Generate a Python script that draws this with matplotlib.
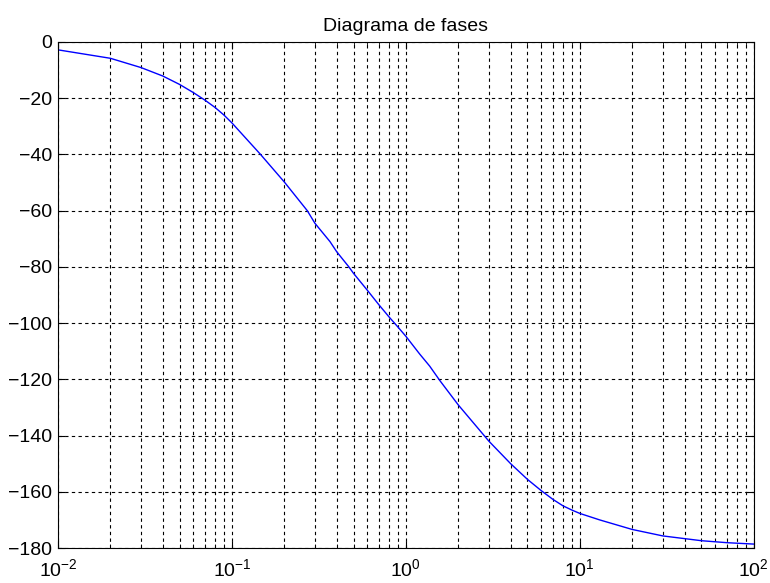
import matplotlib.pyplot as plt

freq = [0.01, 0.02, 0.03, 0.04, 0.05, 0.06, 0.07, 0.08, 0.09, 0.1,
        0.146, 0.2, 0.271, 0.3, 0.366, 0.4, 0.47, 0.5, 0.6, 0.7, 0.8, 0.9, 1.0,
        1.2, 1.37, 1.57, 2, 3, 4, 5, 6, 7, 8, 9, 10,
        13, 20, 30, 50, 70, 100]
phase = [-2.8, -5.8, -9.1, -12.1, -15.1, -18.0, -20.7, -23.3, -26.0, -28.8,
         -40.0, -49.8, -60.0, -64.5, -71.0, -74.6, -80.0, -82.3, -88.3, -93.5, -97.8, -101.4, -104.7,
         -111.0, -115.3, -120.5, -129.1, -142.0, -150.0, -155.6, -159.6, -162.7, -165.0, -166.5, -167.7,
         -170.0, -173.4, -175.7, -177.4, -178.1, -178.6]
yticks = list(range(-180, 1, 20))

plt.rcParams['font.family'] = ['Liberation Sans', 'DejaVu Sans']
plt.rcParams['mathtext.fontset'] = 'custom'
plt.rcParams['mathtext.rm'] = 'Liberation Sans'
plt.rcParams['mathtext.it'] = 'Liberation Sans'

fig = plt.figure(figsize=(7.7, 5.83), dpi=100)
ax = fig.add_axes([0.0753, 0.060, 0.9037, 0.868])
ax.semilogx(freq, phase, color='blue', lw=1)
ax.set_xlim(0.01, 100)
ax.set_ylim(-180, 0)
ax.set_yticks(yticks)
ax.set_title('Diagrama de fases', fontsize=14, pad=8)

# grille pointillee style matlab
ax.grid(True, which='major', color='black', linestyle=(0, (3, 3)), lw=0.8)
ax.grid(True, which='minor', axis='x', color='black', linestyle=(0, (3, 3)), lw=0.8)
ax.tick_params(which='both', direction='in', top=True, right=True, labelsize=14)
ax.tick_params(which='major', length=5)
ax.tick_params(which='minor', length=3)
ax.tick_params(axis='x', which='major', pad=7)
ax.tick_params(axis='y', which='major', pad=4)
for s in ax.spines.values():
    s.set_linewidth(0.8)

plt.savefig("out.png", dpi=100)
